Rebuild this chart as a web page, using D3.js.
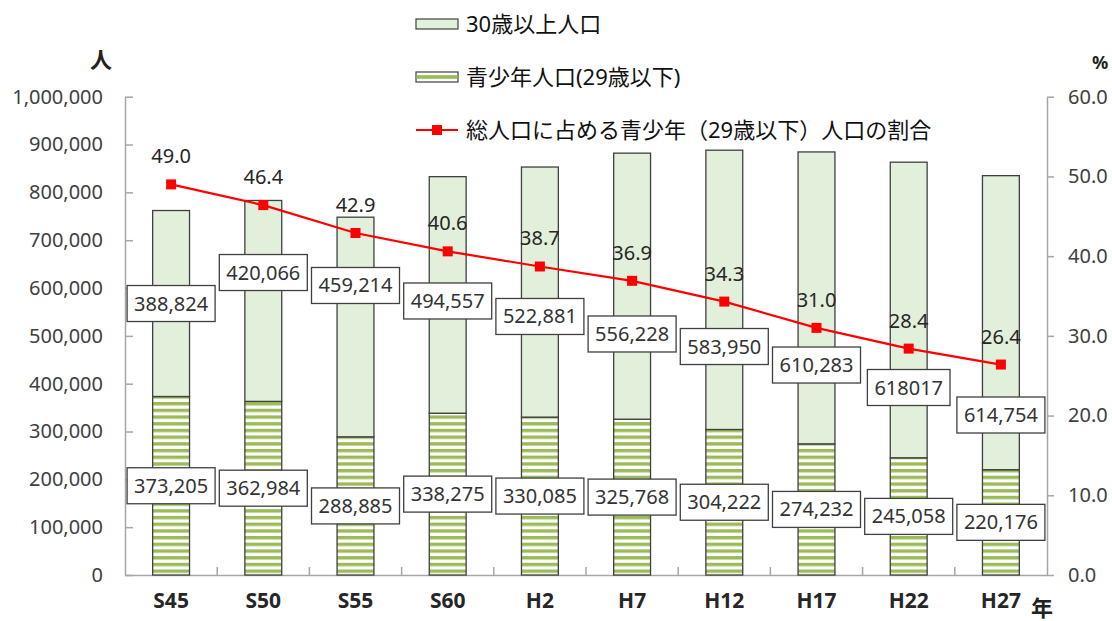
<!DOCTYPE html>
<html>
<head>
<meta charset="utf-8">
<script src="https://cdnjs.cloudflare.com/ajax/libs/d3/7.8.5/d3.min.js"></script>
<style>
  body { margin: 0; background: #fff; }
  text { font-family: "Noto Sans", "Noto Sans CJK JP", sans-serif; }
</style>
</head>
<body>
<div id="app"></div>
<script>
// data
const years = ["S45", "S50", "S55", "S60", "H2", "H7", "H12", "H17", "H22", "H27"];
const youth = [373205, 362984, 288885, 338275, 330085, 325768, 304222, 274232, 245058, 220176];
const adult = [388824, 420066, 459214, 494557, 522881, 556228, 583950, 610283, 618017, 614754];
const adultText = ["388,824", "420,066", "459,214", "494,557", "522,881", "556,228", "583,950", "610,283", "618017", "614,754"];
// where the adult labels sit (people, on the left scale) - moved by hand in the original
const adultLabelAt = [567600, 632400, 605300, 572900, 540500, 503900, 477700, 439000, 392000, 334500];
const share = [49.0, 46.4, 42.9, 40.6, 38.7, 36.9, 34.3, 31.0, 28.4, 26.4];
const leftTicks = [0, 100000, 200000, 300000, 400000, 500000, 600000, 700000, 800000, 900000, 1000000];
const rightTicks = [0, 10, 20, 30, 40, 50, 60];
const legendNames = ["30歳以上人口", "青少年人口(29歳以下)", "総人口に占める青少年（29歳以下）人口の割合"];

const width = 1112, height = 621;
const plotLeft = 125, plotRight = 1047, plotTop = 96.7, plotBottom = 575;
const lightGreen = "#e2efda", stripeGreen = "#9bbb59", outline = "#404040", axisGrey = "#a6a6a6";

const svg = d3.select("#app").append("svg")
    .attr("width", width)
    .attr("height", height);

// stripe pattern for the youth bars
const pat = svg.append("defs").append("pattern")
    .attr("id", "stripes")
    .attr("patternUnits", "userSpaceOnUse")
    .attr("width", 8)
    .attr("height", 6.7);
pat.append("rect").attr("width", 8).attr("height", 6.7).attr("fill", "#fff");
pat.append("rect").attr("width", 8).attr("height", 3.4).attr("fill", stripeGreen);

const x = d3.scaleBand()
    .domain(years)
    .range([plotLeft, plotRight])
    .paddingInner(0.6)
    .paddingOuter(0.3);
const y = d3.scaleLinear().domain([0, 1000000]).range([plotBottom, plotTop]);
const y2 = d3.scaleLinear().domain([0, 60]).range([plotBottom, plotTop]);

// axes
const gLeft = svg.append("g")
    .attr("transform", `translate(${plotLeft},0)`)
    .call(d3.axisLeft(y).tickValues(leftTicks).tickFormat(d3.format(","))
        .tickSizeInner(-8).tickSizeOuter(0).tickPadding(22));
const gRight = svg.append("g")
    .attr("transform", `translate(${plotRight},0)`)
    .call(d3.axisRight(y2).tickValues(rightTicks).tickFormat(d3.format(".1f"))
        .tickSizeInner(7).tickSizeOuter(0).tickPadding(14));
const gBottom = svg.append("g")
    .attr("transform", `translate(0,${plotBottom})`)
    .call(d3.axisBottom(x).tickSize(0).tickPadding(18));

[gLeft, gRight, gBottom].forEach(g => {
    g.select(".domain").attr("stroke", axisGrey).attr("stroke-width", 1.5);
    g.selectAll(".tick line").attr("stroke", axisGrey).attr("stroke-width", 1.5);
    g.selectAll(".tick text").attr("font-size", 20).attr("fill", "#404040");
});
gBottom.selectAll(".tick text")
    .attr("font-family", "'Liberation Sans', Arial, sans-serif")
    .attr("font-size", 21)
    .attr("font-weight", "bold")
    .attr("fill", "#262626");

// category separator ticks
const step = x.step();
gBottom.selectAll(".sep")
    .data(years.slice(1))
    .join("line")
    .attr("x1", d => x(d) - step * 0.3)
    .attr("x2", d => x(d) - step * 0.3)
    .attr("y1", 0)
    .attr("y2", -8)
    .attr("stroke", axisGrey)
    .attr("stroke-width", 1.5);

// unit labels
svg.append("text").attr("x", 101).attr("y", 68).attr("text-anchor", "middle")
    .attr("font-size", 22).attr("font-weight", "bold").attr("fill", "#222").text("人");
svg.append("text").attr("x", 1100).attr("y", 69).attr("text-anchor", "middle")
    .attr("font-size", 18).attr("font-weight", "bold").attr("fill", "#222").text("%");
svg.append("text").attr("x", 1042).attr("y", 616).attr("text-anchor", "middle")
    .attr("font-size", 22).attr("font-weight", "bold").attr("fill", "#222").text("年");

// bars
const bars = svg.append("g");
bars.selectAll(".youth")
    .data(years)
    .join("rect")
    .attr("x", d => x(d))
    .attr("width", x.bandwidth())
    .attr("y", (d, i) => y(youth[i]))
    .attr("height", (d, i) => y(0) - y(youth[i]))
    .attr("fill", "url(#stripes)")
    .attr("stroke", outline)
    .attr("stroke-width", 1.3);
bars.selectAll(".adult")
    .data(years)
    .join("rect")
    .attr("x", d => x(d))
    .attr("width", x.bandwidth())
    .attr("y", (d, i) => y(youth[i] + adult[i]))
    .attr("height", (d, i) => y(youth[i]) - y(youth[i] + adult[i]))
    .attr("fill", lightGreen)
    .attr("stroke", outline)
    .attr("stroke-width", 1.3);

// boxed data labels
const boxLabel = (cx, cy, txt) => {
    const g = svg.append("g");
    const rect = g.append("rect");
    const t = g.append("text")
        .attr("x", cx).attr("y", cy)
        .attr("dy", "0.35em")
        .attr("text-anchor", "middle")
        .attr("font-size", 20)
        .attr("fill", "#333")
        .text(txt);
    const w = t.node().getComputedTextLength() + 14;
    rect.attr("x", cx - w / 2).attr("y", cy - 18)
        .attr("width", w).attr("height", 36)
        .attr("fill", "#fff")
        .attr("stroke", outline)
        .attr("stroke-width", 1.3);
};
const comma = d3.format(",");
years.forEach((d, i) => {
    const cx = x(d) + x.bandwidth() / 2;
    boxLabel(cx, y(youth[i] / 2), comma(youth[i]));
    boxLabel(cx, y(adultLabelAt[i]), adultText[i]);
});

// share line
const line = d3.line()
    .x((d, i) => x(years[i]) + x.bandwidth() / 2)
    .y(d => y2(d));
svg.append("path")
    .datum(share)
    .attr("d", line)
    .attr("fill", "none")
    .attr("stroke", "#ff0000")
    .attr("stroke-width", 2.2);
svg.selectAll(".marker")
    .data(share)
    .join("rect")
    .attr("x", (d, i) => x(years[i]) + x.bandwidth() / 2 - 5)
    .attr("y", d => y2(d) - 5)
    .attr("width", 10)
    .attr("height", 10)
    .attr("fill", "#ff0000");
svg.selectAll(".shareLabel")
    .data(share)
    .join("text")
    .attr("x", (d, i) => x(years[i]) + x.bandwidth() / 2)
    .attr("y", d => y2(d) - 28)
    .attr("dy", "0.35em")
    .attr("text-anchor", "middle")
    .attr("font-size", 20)
    .attr("fill", "#262626")
    .text(d => d3.format(".1f")(d));

// legend
const legend = svg.append("g").attr("transform", "translate(416,0)");
const rowY = [24, 77, 130];
legend.append("rect").attr("x", 0).attr("y", rowY[0] - 5).attr("width", 42).attr("height", 10)
    .attr("fill", lightGreen).attr("stroke", outline).attr("stroke-width", 1.2);
legend.append("rect").attr("x", 0).attr("y", rowY[1] - 5).attr("width", 42).attr("height", 10)
    .attr("fill", "#fff").attr("stroke", outline).attr("stroke-width", 1.2);
legend.append("rect").attr("x", 0.6).attr("y", rowY[1] - 1.8).attr("width", 40.8).attr("height", 3.6)
    .attr("fill", stripeGreen);
legend.append("line").attr("x1", 0).attr("x2", 42).attr("y1", rowY[2]).attr("y2", rowY[2])
    .attr("stroke", "#ff0000").attr("stroke-width", 2.2);
legend.append("rect").attr("x", 16).attr("y", rowY[2] - 5).attr("width", 10).attr("height", 10)
    .attr("fill", "#ff0000");
legend.selectAll(".name")
    .data(legendNames)
    .join("text")
    .attr("x", 50)
    .attr("y", (d, i) => rowY[i])
    .attr("dy", "0.36em")
    .attr("font-family", "'Noto Sans CJK JP', sans-serif")
    .attr("font-size", 22)
    .attr("fill", "#111")
    .text(d => d);
</script>
</body>
</html>
